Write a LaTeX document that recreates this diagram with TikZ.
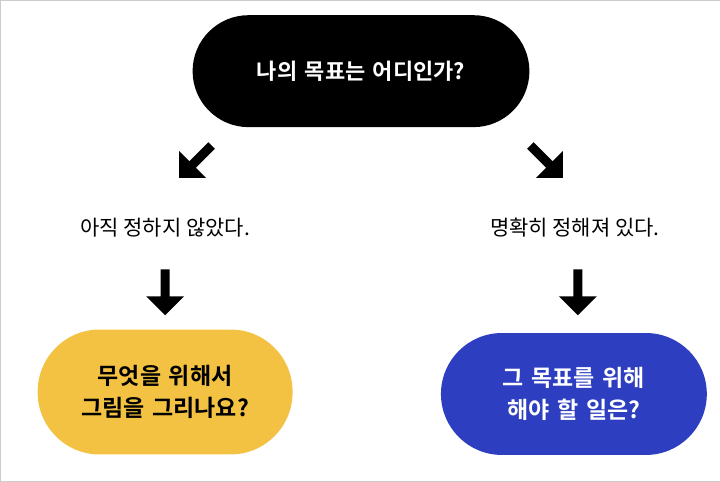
\documentclass[tikz,border=0pt]{standalone}
\usepackage{fontspec}
\setmainfont{Noto Sans CJK KR}
\newfontfamily\krb{Noto Sans CJK KR Bold}
\usetikzlibrary{shapes.arrows}
\definecolor{ylw}{HTML}{F3C242}
\definecolor{blu}{HTML}{2D3EC0}
\begin{document}
\begin{tikzpicture}[x=1pt,y=-1pt,
  pill/.style={rounded corners=56pt,minimum height=112pt,text width=#1,align=center,font=\krb\fontsize{23}{32}\selectfont},
  blk/.style={single arrow,fill=black,draw=none,minimum height=46pt,minimum width=38pt,single arrow head extend=10pt,inner sep=3pt},
  lbl/.style={font=\fontsize{21}{24}\selectfont}]
\draw[gray!40,fill=white] (0,0) rectangle (720,481);
\useasboundingbox (0,0) rectangle (720,481);
\node[pill=300pt,fill=black,text=white,minimum width=337pt,font=\krb\fontsize{22}{28}\selectfont] (q) at (361,71) {나의 목표는 어디인가?};
\node[blk,rotate=-135] (al) at (197,160) {};
\node[blk,rotate=-45] (ar) at (545,160) {};
\node[lbl] (tl) at (165,228) {아직 정하지 않았다.};
\node[lbl] (tr) at (575,228) {명확히 정해져 있다.};
\node[blk,rotate=-90] (dl) at (165,290) {};
\node[blk,rotate=-90] (dr) at (578,290) {};
\node[pill=220pt,fill=ylw,text=black,minimum width=255pt,minimum height=125pt,rounded corners=62pt] (y) at (165,392) {무엇을 위해서\\그림을 그리나요?};
\node[pill=220pt,fill=blu,text=white,minimum width=266pt,minimum height=122pt,rounded corners=61pt] (b) at (574,394) {그 목표를 위해\\해야 할 일은?};
\end{tikzpicture}
\end{document}
